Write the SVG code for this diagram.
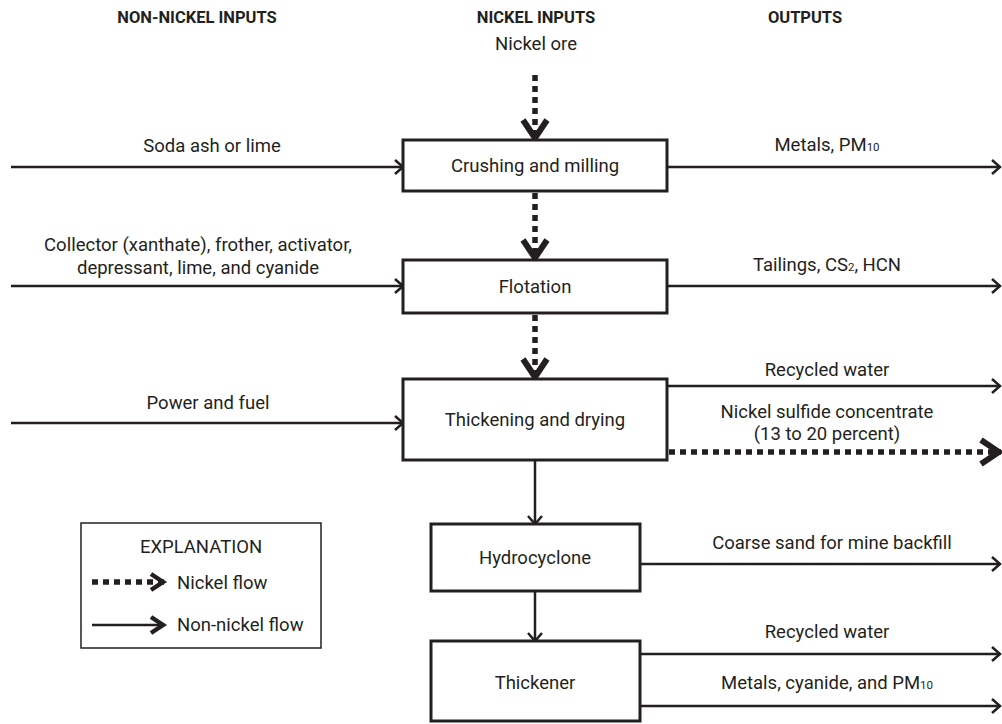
<svg xmlns="http://www.w3.org/2000/svg" width="1002" height="724" viewBox="0 0 1002 724">
  <defs>
    <style>
      text { font-family: "Roboto", "Liberation Sans", sans-serif; fill: #231f20; font-size: 18.5px; }
      .hdr { font-weight: bold; font-size: 16.5px; }
      .mid { text-anchor: middle; }
      .box { fill: #ffffff; stroke: #231f20; stroke-width: 3; }
      .flow { fill: none; stroke: #231f20; stroke-width: 2.5; }
      .nickel { fill: none; stroke: #231f20; stroke-width: 5.5; stroke-dasharray: 6 5; }
      .legendbox { fill: #ffffff; stroke: #231f20; stroke-width: 1.5; }
    </style>
    <!-- open arrowhead for non-nickel flows -->
    <marker id="arrow" markerUnits="userSpaceOnUse" viewBox="-12 -10 14 20" refX="0" refY="0" markerWidth="14" markerHeight="20" orient="auto">
      <path d="M -8 -7 L 0 0 L -8 7" fill="none" stroke="#231f20" stroke-width="2.5"/>
    </marker>
    <!-- heavy chevron for nickel flows -->
    <marker id="chevron" markerUnits="userSpaceOnUse" viewBox="-28 -18 32 36" refX="0" refY="0" markerWidth="32" markerHeight="36" orient="auto">
      <path d="M -20 -12 L -2 0 L -20 12" fill="none" stroke="#231f20" stroke-width="6" stroke-linejoin="miter" stroke-miterlimit="10"/>
    </marker>
    <!-- bold arrowhead used in the legend -->
    <marker id="legendArrow" markerUnits="userSpaceOnUse" viewBox="-20 -12 24 24" refX="0" refY="0" markerWidth="24" markerHeight="24" orient="auto">
      <path d="M -14 -8 L -2 0 L -14 8" fill="none" stroke="#231f20" stroke-width="4.5"/>
    </marker>
  </defs>

  <rect width="1002" height="724" fill="#ffffff"/>

  <!-- column headings -->
  <g id="headings">
    <text class="hdr mid" x="197" y="23">NON-NICKEL INPUTS</text>
    <text class="hdr mid" x="536" y="23">NICKEL INPUTS</text>
    <text class="hdr mid" x="805" y="23">OUTPUTS</text>
  </g>

  <!-- connectors -->
  <g id="connectors">
    <!-- nickel stream down the process line -->
    <line class="nickel" x1="535" y1="75" x2="535" y2="140" marker-end="url(#chevron)"/>
    <line class="nickel" x1="535" y1="193" x2="535" y2="260" marker-end="url(#chevron)"/>
    <line class="nickel" x1="535" y1="315" x2="535" y2="379" marker-end="url(#chevron)"/>
    <line class="nickel" x1="669" y1="452" x2="1001" y2="452" marker-end="url(#chevron)"/>

    <!-- non-nickel inputs -->
    <line class="flow" x1="11" y1="167" x2="403" y2="167" marker-end="url(#arrow)"/>
    <line class="flow" x1="11" y1="286" x2="403" y2="286" marker-end="url(#arrow)"/>
    <line class="flow" x1="11" y1="423" x2="403" y2="423" marker-end="url(#arrow)"/>

    <!-- tailings path -->
    <line class="flow" x1="535" y1="460" x2="535" y2="524" marker-end="url(#arrow)"/>
    <line class="flow" x1="535" y1="591" x2="535" y2="641" marker-end="url(#arrow)"/>

    <!-- outputs -->
    <line class="flow" x1="667" y1="167" x2="1000" y2="167" marker-end="url(#arrow)"/>
    <line class="flow" x1="667" y1="286" x2="1000" y2="286" marker-end="url(#arrow)"/>
    <line class="flow" x1="667" y1="386" x2="1000" y2="386" marker-end="url(#arrow)"/>
    <line class="flow" x1="640" y1="564" x2="1000" y2="564" marker-end="url(#arrow)"/>
    <line class="flow" x1="640" y1="654" x2="1000" y2="654" marker-end="url(#arrow)"/>
    <line class="flow" x1="640" y1="706" x2="1000" y2="706" marker-end="url(#arrow)"/>
  </g>

  <!-- flow labels -->
  <g id="labels">
    <text class="mid" x="536" y="50">Nickel ore</text>
    <text class="mid" x="212" y="152">Soda ash or lime</text>
    <text class="mid" x="198" y="251">Collector (xanthate), frother, activator,</text>
    <text class="mid" x="198" y="274">depressant, lime, and cyanide</text>
    <text class="mid" x="208" y="409">Power and fuel</text>
    <text class="mid" x="827" y="151">Metals, PM<tspan font-size="11.5">10</tspan></text>
    <text class="mid" x="827" y="271">Tailings, CS<tspan font-size="11.5">2</tspan>, HCN</text>
    <text class="mid" x="827" y="376">Recycled water</text>
    <text class="mid" x="827" y="418">Nickel sulfide concentrate</text>
    <text class="mid" x="827" y="440">(13 to 20 percent)</text>
    <text class="mid" x="832" y="549">Coarse sand for mine backfill</text>
    <text class="mid" x="827" y="638">Recycled water</text>
    <text class="mid" x="827" y="689">Metals, cyanide, and PM<tspan font-size="11.5">10</tspan></text>
  </g>

  <g id="crushing">
    <rect class="box" x="403" y="140" width="264" height="51"/>
    <text class="mid" x="535" y="172">Crushing and milling</text>
  </g>
  <g id="flotation">
    <rect class="box" x="403" y="260" width="264" height="53"/>
    <text class="mid" x="535" y="293">Flotation</text>
  </g>
  <g id="thickening">
    <rect class="box" x="403" y="379" width="264" height="81"/>
    <text class="mid" x="535" y="426">Thickening and drying</text>
  </g>
  <g id="hydrocyclone">
    <rect class="box" x="431" y="524" width="209" height="67"/>
    <text class="mid" x="535" y="564">Hydrocyclone</text>
  </g>
  <g id="thickener">
    <rect class="box" x="431" y="641" width="209" height="80"/>
    <text class="mid" x="535" y="689">Thickener</text>
  </g>

  <g id="legend">
    <rect class="legendbox" x="81" y="523" width="240" height="125"/>
    <text class="mid" x="201" y="553" font-size="20.5">EXPLANATION</text>
    <line class="nickel" x1="92" y1="582" x2="165" y2="582" stroke-width="4" stroke-dasharray="5 4" marker-end="url(#legendArrow)"/>
    <text x="177" y="589" font-size="19">Nickel flow</text>
    <line class="flow" x1="92" y1="625" x2="165" y2="625" stroke-width="3" marker-end="url(#legendArrow)"/>
    <text x="177" y="631" font-size="19">Non-nickel flow</text>
  </g>
</svg>
